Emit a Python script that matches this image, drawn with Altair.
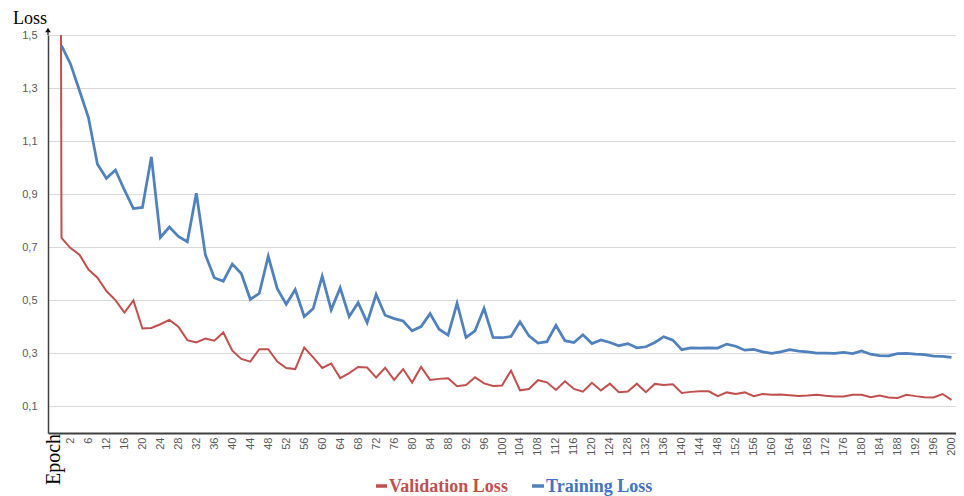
import altair as alt
import pandas as pd

# Category axis (epochs); the first category only carries the clipped initial validation value
categories = ["0", "1", "2", "4", "6", "8"] + [str(e) for e in range(12, 202, 2)]
axis_labels = ["2", "6"] + [str(e) for e in range(12, 201, 4)]
y_ticks = [0.1, 0.3, 0.5, 0.7, 0.9, 1.1, 1.3, 1.5]

# Training loss, from category "1" onwards
training = [
    1.460, 1.391, 1.291, 1.189, 1.013, 0.960, 0.991, 0.916, 0.846, 0.850,
    1.041, 0.737, 0.776, 0.741, 0.721, 0.904, 0.672, 0.585, 0.572, 0.637,
    0.601, 0.504, 0.526, 0.666, 0.544, 0.485, 0.541, 0.439, 0.469, 0.591,
    0.464, 0.547, 0.439, 0.491, 0.416, 0.522, 0.444, 0.431, 0.422, 0.385,
    0.401, 0.450, 0.391, 0.369, 0.489, 0.360, 0.385, 0.470, 0.360, 0.359,
    0.364, 0.419, 0.366, 0.339, 0.344, 0.406, 0.348, 0.341, 0.370, 0.337,
    0.351, 0.341, 0.329, 0.337, 0.321, 0.325, 0.341, 0.363, 0.350, 0.314,
    0.321, 0.320, 0.321, 0.320, 0.335, 0.327, 0.312, 0.315, 0.306, 0.300,
    0.306, 0.314, 0.309, 0.306, 0.301, 0.301, 0.300, 0.304, 0.299, 0.309,
    0.297, 0.292, 0.291, 0.299, 0.300, 0.297, 0.295, 0.290, 0.289, 0.285,
]

# Validation loss, from category "0" (very high initial value, clipped at the top)
validation = [
    15.0,
    0.735, 0.697, 0.672, 0.616, 0.585, 0.535, 0.501, 0.454, 0.500, 0.394,
    0.396, 0.410, 0.426, 0.401, 0.350, 0.341, 0.356, 0.348, 0.379, 0.310,
    0.279, 0.269, 0.316, 0.316, 0.269, 0.245, 0.241, 0.322, 0.285, 0.245,
    0.262, 0.207, 0.226, 0.249, 0.247, 0.209, 0.246, 0.200, 0.241, 0.190,
    0.249, 0.200, 0.204, 0.206, 0.176, 0.181, 0.210, 0.187, 0.177, 0.179,
    0.235, 0.161, 0.166, 0.199, 0.191, 0.162, 0.195, 0.166, 0.156, 0.189,
    0.160, 0.186, 0.154, 0.156, 0.186, 0.154, 0.185, 0.181, 0.184, 0.151,
    0.155, 0.157, 0.157, 0.139, 0.153, 0.147, 0.153, 0.139, 0.147, 0.144,
    0.145, 0.142, 0.139, 0.141, 0.144, 0.140, 0.138, 0.138, 0.144, 0.144,
    0.135, 0.141, 0.134, 0.132, 0.144, 0.139, 0.135, 0.134, 0.147, 0.125,
]

RED = "#c0504d"
BLUE = "#4f81bd"
AXIS = "#404040"

val_df = pd.DataFrame({"epoch": categories[: len(validation)],
                       "idx": list(range(len(validation))),
                       "loss": validation})
tr_df = pd.DataFrame({"epoch": categories[1: 1 + len(training)],
                      "idx": list(range(1, 1 + len(training))),
                      "loss": training})

x_enc = alt.X(
    "epoch:O",
    scale=alt.Scale(type="point", domain=categories, padding=0.5),
    axis=alt.Axis(values=axis_labels, labelAngle=270, title=None, ticks=False,
                  grid=False, domainColor=AXIS, domainWidth=2,
                  labelColor="#595959", labelFontSize=11,
                  labelFont="Liberation Sans", labelPadding=4),
)
y_enc = alt.Y(
    "loss:Q",
    scale=alt.Scale(domain=[0, 1.5], nice=False, zero=False),
    axis=alt.Axis(values=y_ticks, title=None, ticks=False, grid=True,
                  gridColor="#d9d9d9", gridWidth=1,
                  domainColor=AXIS, domainWidth=1.5,
                  labelColor="#595959", labelFontSize=11,
                  labelFont="Liberation Sans", labelPadding=11,
                  labelExpr="replace(format(datum.value, '.1f'), '.', ',')"),
)

val_line = alt.Chart(val_df).mark_line(color=RED, strokeWidth=2, clip=True).encode(
    x=x_enc, y=y_enc, order=alt.Order("idx:Q"))
tr_line = alt.Chart(tr_df).mark_line(color=BLUE, strokeWidth=2.75, clip=True).encode(
    x=x_enc, y=y_enc, order=alt.Order("idx:Q"))

one = alt.Data(values=[{}])

loss_title = alt.Chart(one).mark_text(
    text="Loss", font="Liberation Serif", fontSize=18, align="left",
    baseline="alphabetic", color="#000000"
).encode(x=alt.value(-35), y=alt.value(-11))

arrow_stem = alt.Chart(one).mark_rule(color=AXIS, strokeWidth=1.5).encode(
    x=alt.value(0), y=alt.value(-6), y2=alt.value(0))
arrow_head = alt.Chart(one).mark_point(
    shape="triangle-up", filled=True, color="#000000", size=30, opacity=1
).encode(x=alt.value(0), y=alt.value(-5))

epoch_title = alt.Chart(one).mark_text(
    text="Epoch", font="Liberation Serif", fontSize=20, angle=270,
    align="left", baseline="middle", color="#000000"
).encode(x=alt.value(6), y=alt.value(450))

leg_val_sym = alt.Chart(one).mark_rule(color=RED, strokeWidth=3.5).encode(
    x=alt.value(328), x2=alt.value(339), y=alt.value(451))
leg_val_txt = alt.Chart(one).mark_text(
    text="Validation Loss", font="Liberation Serif", fontSize=18,
    fontWeight="bold", color=RED, align="left", baseline="alphabetic"
).encode(x=alt.value(341), y=alt.value(457))
leg_tr_sym = alt.Chart(one).mark_rule(color=BLUE, strokeWidth=3.5).encode(
    x=alt.value(484), x2=alt.value(496), y=alt.value(451))
leg_tr_txt = alt.Chart(one).mark_text(
    text="Training Loss", font="Liberation Serif", fontSize=18,
    fontWeight="bold", color="#4472c4", align="left", baseline="alphabetic"
).encode(x=alt.value(498), y=alt.value(457))

chart = alt.layer(
    val_line, tr_line, loss_title, arrow_stem, arrow_head, epoch_title,
    leg_val_sym, leg_val_txt, leg_tr_sym, leg_tr_txt,
).properties(
    width=908, height=398,
    autosize=alt.AutoSizeParams(type="none"),
    padding={"left": 40, "top": 27, "right": 0, "bottom": 63},
    background="white",
).configure_view(stroke=None)

chart.save("out.html", embed_options={"renderer": "svg", "actions": False})
